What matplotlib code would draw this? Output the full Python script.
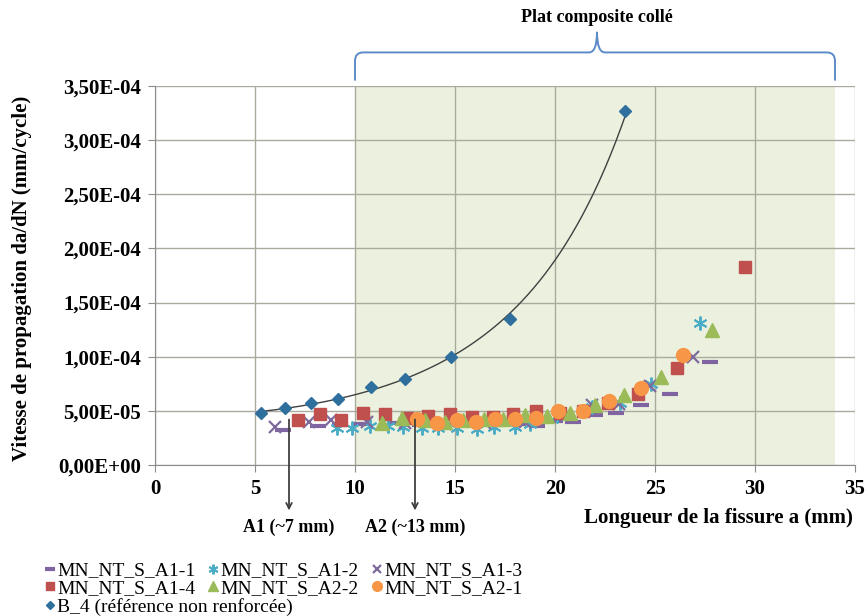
import numpy as np
import matplotlib
matplotlib.use("Agg")
import matplotlib.pyplot as plt
from matplotlib.path import Path
from matplotlib.patches import PathPatch
from matplotlib.ticker import FuncFormatter, MultipleLocator

plt.rcParams['font.family'] = ['Liberation Serif', 'DejaVu Serif']

# crack length (mm) / growth rate (units of 1e-5 mm/cycle)
a1_1_x = [6.4, 8.15, 9.25, 10.25, 12.1, 13.25, 14.5, 15.75, 17.0, 18.15, 19.1,
          20.0, 20.9, 22.0, 23.05, 24.3, 25.75, 27.75]
a1_1_y = [3.2, 3.6, 3.7, 3.8, 3.9, 3.7, 3.8, 3.8, 3.7, 3.8, 3.6,
          4.05, 3.95, 4.6, 4.8, 5.5, 6.6, 9.5]

a1_2_x = [9.1, 9.85, 10.75, 11.65, 12.4, 13.35, 14.15, 15.1, 16.1, 16.95, 18.0,
          18.75, 20.1, 21.85, 23.25, 24.8, 27.25]
a1_2_y = [3.4, 3.4, 3.6, 3.6, 3.5, 3.4, 3.4, 3.4, 3.3, 3.5, 3.5,
          3.8, 4.5, 5.4, 5.7, 7.45, 13.1]

a1_3_x = [6.0, 7.7, 8.8, 10.6, 12.5, 14.5, 16.5, 18.5, 21.85, 23.2, 24.75, 26.9]
a1_3_y = [3.5, 4.0, 4.15, 4.0, 3.9, 3.8, 3.9, 4.0, 5.5, 5.6, 7.3, 10.0]

a1_4_x = [7.15, 8.25, 9.3, 10.4, 11.5, 12.6, 13.65, 14.75, 15.85, 16.9, 17.9,
          19.05, 20.25, 21.4, 22.65, 24.15, 26.1, 29.5]
a1_4_y = [4.15, 4.7, 4.2, 4.8, 4.7, 4.3, 4.5, 4.7, 4.4, 4.4, 4.7,
          5.0, 4.8, 5.0, 5.7, 6.6, 9.0, 18.3]

a2_2_x = [11.35, 12.35, 13.5, 14.5, 15.4, 16.45, 17.4, 18.5, 19.6, 20.75, 22.0,
          23.45, 25.3, 27.85]
a2_2_y = [3.9, 4.3, 4.15, 4.0, 4.15, 4.25, 4.25, 4.6, 4.5, 4.8, 5.5,
          6.5, 8.1, 12.5]

a2_1_x = [13.1, 14.1, 15.1, 16.05, 17.0, 18.0, 19.05, 20.15, 21.4, 22.7, 24.3, 26.4]
a2_1_y = [4.25, 3.9, 4.15, 3.95, 4.25, 4.25, 4.35, 5.0, 5.0, 5.9, 7.1, 10.2]

b4_x = [5.3, 6.5, 7.8, 9.15, 10.8, 12.5, 14.8, 17.75, 23.5]
b4_y = [4.8, 5.25, 5.7, 6.1, 7.2, 7.9, 9.95, 13.5, 32.7]

SC = 1e-5
SERIF_BOLD = dict(fontweight='bold')


def sci_comma(v, pos):
    return f"{v:.2E}".replace('.', ',')


fig = plt.figure(figsize=(8.67, 6.16), dpi=100)
ax = fig.add_axes([155 / 867, 151 / 616, 700 / 867, 379 / 616])

ax.axvspan(10, 34, color='#ebf1de', zorder=0, lw=0)
ax.grid(True, color='#a9ab9f', lw=1.0, zorder=0.5)
ax.set_axisbelow(True)

series = [
    (a1_1_x, a1_1_y, 'MN_NT_S_A1-1', dict(marker='_', color='#8064a2', ms=11, mew=3)),
    (a1_2_x, a1_2_y, 'MN_NT_S_A1-2', dict(marker=(6, 2, 0), color='#4bacc6', ms=10, mew=1.4)),
    (a1_3_x, a1_3_y, 'MN_NT_S_A1-3', dict(marker='x', color='#7d6b9e', ms=9, mew=1.6)),
    (a1_4_x, a1_4_y, 'MN_NT_S_A1-4', dict(marker='s', color='#c0504d', ms=9)),
    (a2_2_x, a2_2_y, 'MN_NT_S_A2-2', dict(marker='^', color='#9bbb59', ms=10)),
    (a2_1_x, a2_1_y, 'MN_NT_S_A2-1', dict(marker='o', color='#f79646', ms=10)),
]
handles = {}
for xs, ys, lab, st in series:
    h, = ax.plot(xs, np.array(ys) * SC, ls='none', label=lab, zorder=3, **st)
    handles[lab] = h

# trend line through the reference specimen
bx = np.array(b4_x)
by = np.array(b4_y)
coef = np.polyfit(bx, np.log(by), 2)
xx = np.linspace(bx.min(), bx.max(), 200)
ax.plot(xx, np.exp(np.polyval(coef, xx)) * SC, color='#404040', lw=1.0, zorder=4)
hb, = ax.plot(bx, by * SC, ls='none', marker='D', color='#2e6f9e', ms=6.5,
              zorder=5, label='B_4 (référence non renforcée)')

ax.set_xlim(0, 35)
ax.set_ylim(0, 3.5e-4)
ax.xaxis.set_major_locator(MultipleLocator(5))
ax.yaxis.set_major_locator(MultipleLocator(5e-5))
ax.yaxis.set_major_formatter(FuncFormatter(sci_comma))
for s in ['top', 'right']:
    ax.spines[s].set_visible(False)
for s in ['left', 'bottom']:
    ax.spines[s].set_color('#8c8c8c')
ax.tick_params(direction='out', length=5, color='#8c8c8c', labelsize=15, pad=5)
for lab in ax.get_xticklabels() + ax.get_yticklabels():
    lab.set_fontweight('bold')

fig.text(22 / 867, 1 - 278 / 616, 'Vitesse de propagation da/dN (mm/cycle)',
         rotation=90, ha='center', va='center', fontsize=15, **SERIF_BOLD)
fig.text(853 / 867, 1 - 518 / 616, 'Longueur de la fissure a (mm)',
         ha='right', va='center', fontsize=15, **SERIF_BOLD)

# arrows for the two notch positions
for xa, txt in [(6.7, 'A1 (~7 mm)'), (13.0, 'A2 (~13 mm)')]:
    ax.annotate('', xy=(xa, -4.2e-5), xytext=(xa, 4.2e-5),
                arrowprops=dict(arrowstyle='->', color='#404040', lw=1.3,
                                shrinkA=0, shrinkB=0),
                annotation_clip=False, zorder=6)
    ax.text(xa, -5.8e-5, txt, ha='center', va='center', fontsize=13,
            clip_on=False, **SERIF_BOLD)

# brace over the bonded composite patch
yb, yh, yp = 3.55e-4, 3.81e-4, 4.0e-4
verts = [(10, yb), (10, yh - 0.08e-4), (10, yh), (10.4, yh), (21.7, yh),
         (22.1, yh), (22.1, yp), (22.1, yh), (22.5, yh), (33.6, yh),
         (34, yh), (34, yh - 0.08e-4), (34, yb)]
codes = [Path.MOVETO, Path.LINETO, Path.CURVE3, Path.CURVE3, Path.LINETO,
         Path.CURVE3, Path.CURVE3, Path.CURVE3, Path.CURVE3, Path.LINETO,
         Path.CURVE3, Path.CURVE3, Path.LINETO]
ax.add_patch(PathPatch(Path(verts, codes), fc='none', ec='#5b8bc9', lw=1.4,
                       clip_on=False))
ax.text(22.1, 4.13e-4, 'Plat composite collé', ha='center', va='center',
        fontsize=13, clip_on=False, **SERIF_BOLD)

order = ['MN_NT_S_A1-1', 'MN_NT_S_A1-4', 'MN_NT_S_A1-2', 'MN_NT_S_A2-2',
         'MN_NT_S_A1-3', 'MN_NT_S_A2-1']
leg_kw = dict(loc='upper left', frameon=False, fontsize=14, handlelength=0.5,
              handletextpad=0.15, labelspacing=0.0, borderpad=0,
              markerscale=0.7, bbox_transform=fig.transFigure)
fig.legend([handles[k] for k in order], order, ncol=3, columnspacing=0.65,
           bbox_to_anchor=(35 / 867, 1 - 552 / 616), **leg_kw)
fig.legend([hb], [hb.get_label()],
           bbox_to_anchor=(35 / 867, 1 - 588 / 616), **leg_kw)

fig.savefig('out.png', dpi=100)
